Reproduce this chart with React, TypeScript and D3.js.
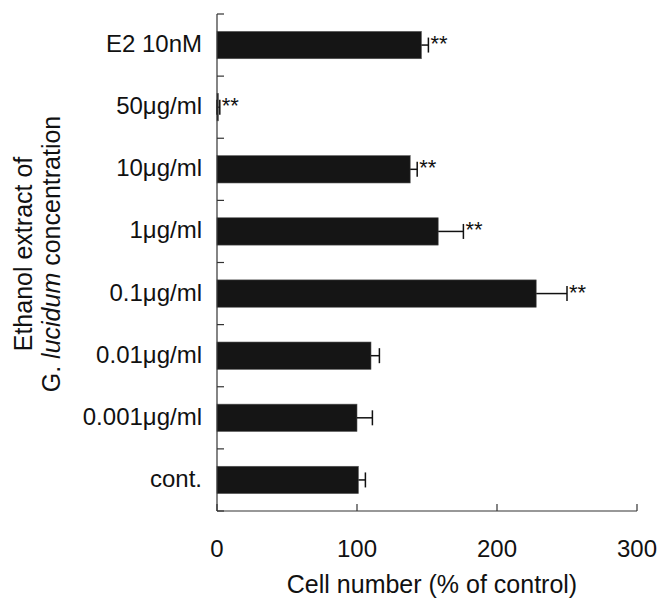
import React from "react";
import * as d3 from "d3";

const categories = ["E2 10nM", "50μg/ml", "10μg/ml", "1μg/ml", "0.1μg/ml", "0.01μg/ml", "0.001μg/ml", "cont."];
const values = [146, 1, 138, 158, 228, 110, 100, 101];
const errors = [5, 1, 5, 18, 22, 6, 11, 5];
const significance = ["**", "**", "**", "**", "**", "", "", ""];
const xTicks = [0, 100, 200, 300];

const W = 660, H = 602;
const left = 217, right = 637, top = 14, bottom = 511;
const font = "'Liberation Sans', Arial, Helvetica, sans-serif";

function T({ x, y, anchor = "start", size = 24, rotate = 0, children }: any) {
  return (
    <text
      transform={`translate(${x},${y}) rotate(${rotate})`}
      textAnchor={anchor}
      fontFamily={font}
      fontSize={size}
      fill="#111"
    >
      {children}
    </text>
  );
}

export default function App() {
  const x = d3.scaleLinear().domain([0, 300]).range([left, right]);
  const y = d3.scaleBand<string>().domain(categories).range([top, bottom]).paddingInner(0.56).paddingOuter(0.28);
  const step = (bottom - top) / categories.length;
  const bw = y.bandwidth();
  return (
    <svg width={W} height={H} style={{ position: "absolute", left: 0, top: 0, background: "#fff" }}>
      {categories.map((c, i) => {
        const yc = (y(c) as number) + bw / 2;
        const xe = x(values[i] + errors[i]);
        return (
          <g key={c}>
            <rect x={x(0)} y={y(c)} width={Math.max(0, x(values[i]) - x(0))} height={bw} fill="#151515" stroke="#555" strokeWidth={0.6} />
            <line x1={x(values[i])} x2={xe} y1={yc} y2={yc} stroke="#111" strokeWidth={1.5} />
            <line x1={xe} x2={xe} y1={yc - 7.5} y2={yc + 7.5} stroke="#111" strokeWidth={1.5} />
            {values[i] < 5 && (
              <line x1={x(Math.max(0, values[i] - errors[i]))} x2={x(Math.max(0, values[i] - errors[i]))} y1={yc - 7.5} y2={yc + 7.5} stroke="#111" strokeWidth={1.5} />
            )}
            {significance[i] && (
              <T x={xe + 2} y={yc + 6} size={22}>{significance[i]}</T>
            )}
            <T x={202} y={yc + 7} anchor="end">{c}</T>
          </g>
        );
      })}
      <line x1={left} x2={left} y1={top} y2={bottom} stroke="#333" strokeWidth={1.2} />
      {d3.range(categories.length + 1).map((k) => (
        <line key={k} x1={left} x2={left + 7} y1={top + k * step} y2={top + k * step} stroke="#333" strokeWidth={1.2} />
      ))}
      <line x1={left} x2={right} y1={bottom} y2={bottom} stroke="#333" strokeWidth={1.2} />
      {xTicks.map((t) => (
        <g key={t}>
          <line x1={x(t)} x2={x(t)} y1={bottom} y2={bottom - 7} stroke="#333" strokeWidth={1.2} />
          <T x={x(t)} y={557} anchor="middle">{t}</T>
        </g>
      ))}
      <T x={432} y={593} anchor="middle" size={25}>Cell number (% of control)</T>
      <T x={32} y={254} rotate={-90} anchor="middle" size={25}>Ethanol extract of</T>
      <T x={60} y={254} rotate={-90} anchor="middle" size={25}>
        G. <tspan fontStyle="italic">lucidum</tspan> concentration
      </T>
    </svg>
  );
}
